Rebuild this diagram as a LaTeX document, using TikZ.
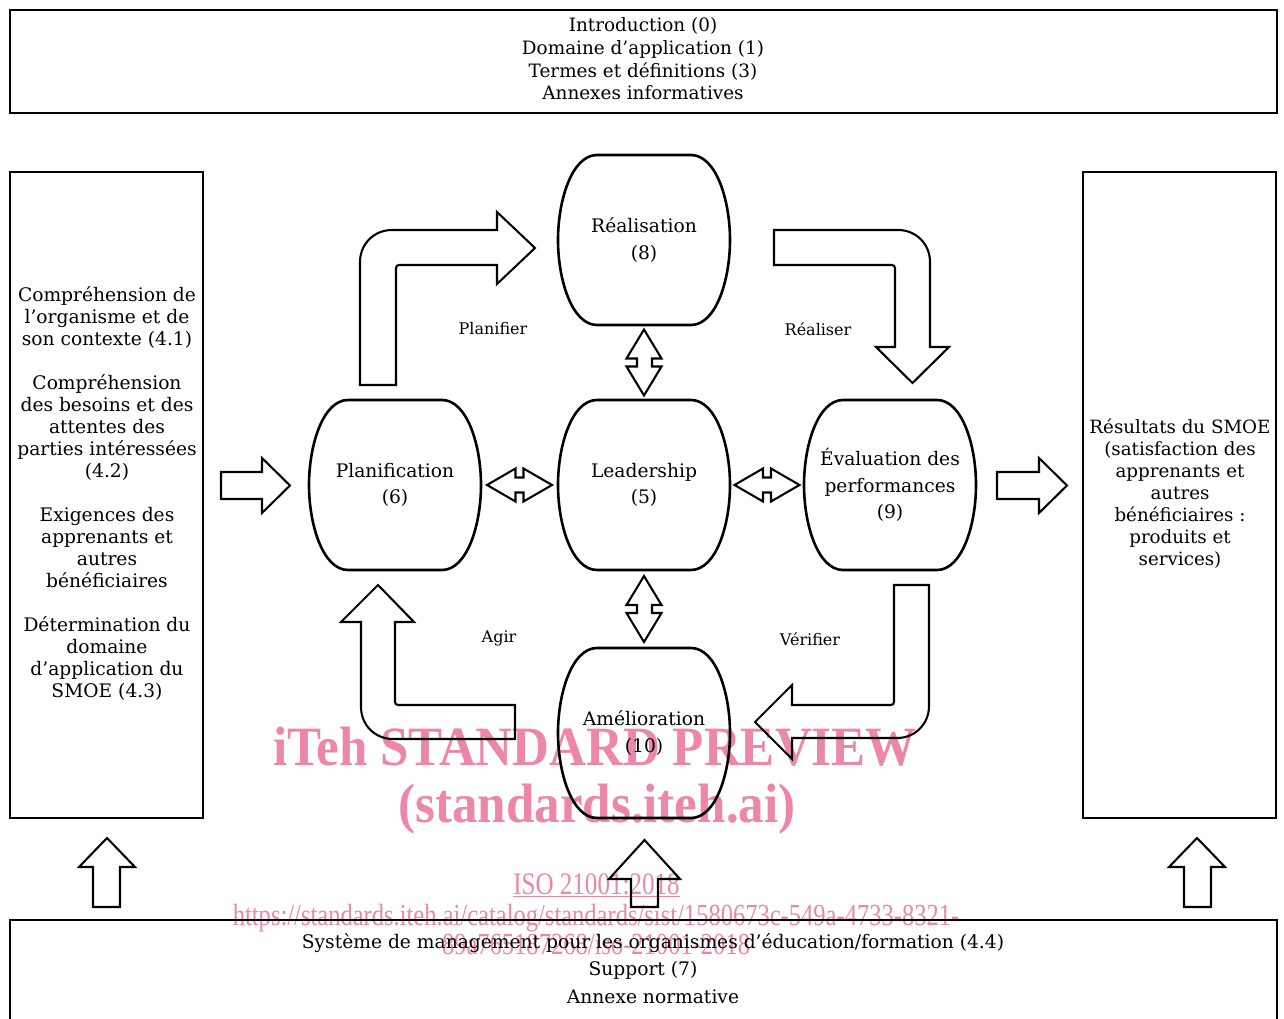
\documentclass[tikz,border=0pt]{standalone}
\usepackage{fontspec}
\setmainfont{DejaVu Serif}
\newfontfamily\wmbold[FakeStretch=0.92]{Liberation Serif}
\newfontfamily\wmreg[FakeStretch=0.8]{Liberation Serif}
\usetikzlibrary{calc}
\definecolor{wmpink}{RGB}{236,135,166}
\begin{document}
\begin{tikzpicture}[x=0.75pt,y=-0.75pt,
  boxline/.style={line width=1.5pt},
  blk/.style={line width=1.55pt, line join=miter},
  frame/.style={draw, boxline, inner sep=0pt},
  btext/.style={minimum width=129pt, minimum height=127.5pt, align=center, inner sep=0pt, font=\fontsize{14}{20}\selectfont},
  lbl/.style={inner sep=0pt, font=\fontsize{12}{14}\selectfont},
  txt/.style={align=center, inner sep=0pt, font=\fontsize{14}{16.5}\selectfont},
  wm/.style={text=wmpink, inner sep=0pt, anchor=base},
  barrelshape/.pic={\draw[line width=1.95pt] (-47,-85) -- (47,-85) .. controls (72,-85) and (86,-40) .. (86,0) .. controls (86,40) and (72,85) .. (47,85) -- (-47,85) .. controls (-72,85) and (-86,40) .. (-86,0) .. controls (-86,-40) and (-72,-85) .. (-47,-85) -- cycle;},
  hdbl/.pic={\draw[blk] (-32.5,0) -- (-4,-16.5) -- (-4,-7.5) -- (4,-7.5) -- (4,-16.5) -- (32.5,0) -- (4,16.5) -- (4,7.5) -- (-4,7.5) -- (-4,16.5) -- cycle;},
  vdbl/.pic={\draw[blk] (0,-33) -- (17.5,-4) -- (8,-4) -- (8,4) -- (17.5,4) -- (0,33) -- (-17.5,4) -- (-7,4) -- (-7,-4) -- (-17.5,-4) -- cycle;}
]
\useasboundingbox (0,0) rectangle (1284,1019);

% watermark (behind)
\node[wm, font=\wmbold\bfseries\fontsize{41.6}{41.6}\selectfont] (wm1) at (595,765) {iTeh STANDARD PREVIEW};
\node[wm, font=\wmbold\bfseries\fontsize{41.6}{41.6}\selectfont] (wm2) at (597,822) {(standards.iteh.ai)};
\node[wm, font=\wmreg\fontsize{23.5}{23.5}\selectfont] (wm3) at (596.5,894) {\underline{ISO 21001:2018}};
\node[wm, font=\wmreg\fontsize{23}{23}\selectfont] (wm4) at (596,925) {https://standards.iteh.ai/catalog/standards/sist/1580673c-549a-4733-8321-};
\node[wm, font=\wmreg\fontsize{23}{23}\selectfont] (wm5) at (596,954) {89a765187268/iso-21001-2018};

% top box
\node[frame, minimum width=950.25pt, minimum height=77.25pt] (topbox) at (643.5,61.5) {};
\node[txt, font=\fontsize{13.8}{17}\selectfont] (toptext) at (643,59) {Introduction (0)\\Domaine d’application (1)\\Termes et définitions (3)\\Annexes informatives};

% left box
\node[frame, minimum width=144.75pt, minimum height=484.5pt] (ctx) at (106.5,495) {};
\node[txt] (ctxtext) at (107,493.5) {Compréhension de\\l’organisme et de\\son contexte (4.1)\\[16.5pt]Compréhension\\des besoins et des\\attentes des\\parties intéressées\\(4.2)\\[16.5pt]Exigences des\\apprenants et\\autres\\bénéficiaires\\[16.5pt]Détermination du\\domaine\\d’application du\\SMOE (4.3)};

% right box
\node[frame, minimum width=144.75pt, minimum height=484.5pt] (res) at (1179.5,495) {};
\node[txt, font=\fontsize{13.7}{16.5}\selectfont] (restext) at (1180,494) {Résultats du SMOE\\(satisfaction des\\apprenants et\\autres\\bénéficiaires :\\produits et\\services)};

% bottom box
\draw[boxline] (10,1019) -- (10,920) -- (1277,920) -- (1277,1019);
\node[txt] (b1) at (653,943) {Système de management pour les organismes d’éducation/formation (4.4)};
\node[txt] (b2) at (643,970) {Support (7)};
\node[txt] (b3) at (653,997) {Annexe normative};

% barrel nodes
\node[btext] (re) at (644,240) {Réalisation\\(8)};
\node[btext] (pl) at (395,485) {Planification\\(6)};
\node[btext] (le) at (644,485) {Leadership\\(5)};
\node[btext] (ev) at (890,485) {Évaluation des\\performances\\(9)};
\node[btext] (am) at (644,733) {Amélioration\\(10)};
\foreach \n in {re,pl,le,ev,am} \pic at (\n) {barrelshape};

% double arrows between nodes
\pic at ($(pl.east)!0.5!(le.west)$) {hdbl};
\pic at ($(le.east)!0.5!(ev.west)$) {hdbl};
\pic at ($(re.south)!0.5!(le.north)$) {vdbl};
\pic at ($(le.south)!0.5!(am.north)$) {vdbl};

% PDCA block arrows
\draw[blk] (396,385) -- (360,385) -- (360,262) .. controls (360,244) and (374,230) .. (392,230) -- (497,230) -- (497,212) -- (535,248) -- (497,284) -- (497,265) -- (399,265) .. controls (397.3,265) and (396,266.3) .. (396,268) -- cycle;
\draw[blk] (774,230) -- (898,230) .. controls (916,230) and (930,244) .. (930,262) -- (930,347) -- (949,347) -- (912.5,383) -- (876,347) -- (895,347) -- (895,268) .. controls (895,266.3) and (893.7,265) .. (892,265) -- (774,265) -- cycle;
\draw[blk] (894,585) -- (929,585) -- (929,706) .. controls (929,724) and (915,738) .. (897,738) -- (792,738) -- (792,759) -- (755,722) -- (792,685) -- (792,705) -- (891,705) .. controls (892.7,705) and (894,703.7) .. (894,702) -- cycle;
\draw[blk] (515,739) -- (393,739) .. controls (375,739) and (361,725) .. (361,707) -- (361,622) -- (341,622) -- (378,585) -- (414,622) -- (395,622) -- (395,702) .. controls (395,703.7) and (396.3,705) .. (398,705) -- (515,705) -- cycle;

\node[lbl] (lplan) at (493,329) {Planifier};
\node[lbl] (lreal) at (818,329) {Réaliser};
\node[lbl] (lagir) at (499,638) {Agir};
\node[lbl] (lver) at (810,639) {Vérifier};

% input / output arrows
\draw[blk] (221,472) -- (262,472) -- (262,458) -- (290,485.5) -- (262,513) -- (262,499) -- (221,499) -- cycle;
\draw[blk] (997,472) -- (1039,472) -- (1039,458) -- (1067,485.5) -- (1039,513) -- (1039,499) -- (997,499) -- cycle;

% up arrows from bottom box
\draw[blk] (93,907) -- (93,867) -- (79,867) -- (107,838) -- (135,867) -- (120,867) -- (120,907) -- cycle;
\draw[blk] (631,907) -- (631,879) -- (609,879) -- (644.5,840) -- (680,879) -- (658,879) -- (658,907) -- cycle;
\draw[blk] (1184,907) -- (1184,867) -- (1169,867) -- (1197,838) -- (1225,867) -- (1211,867) -- (1211,907) -- cycle;
\end{tikzpicture}
\end{document}
